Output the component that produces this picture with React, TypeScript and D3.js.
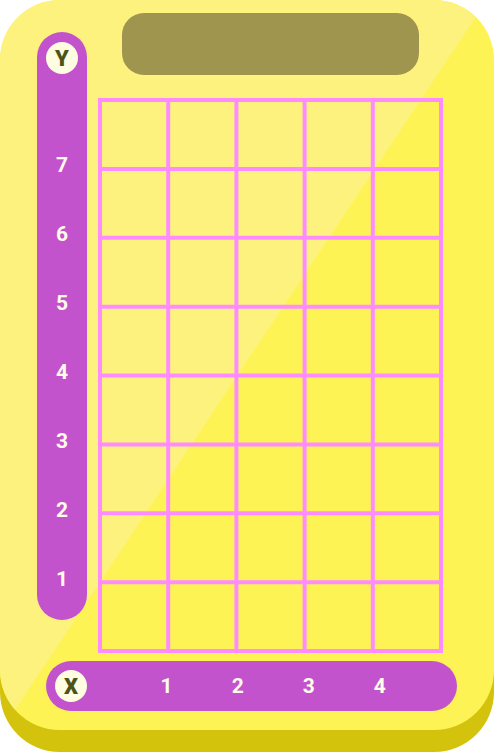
import React from "react";
import * as d3 from "d3";

const yTicks = [1, 2, 3, 4, 5, 6, 7];
const xTicks = [1, 2, 3, 4];
const gridRows = [0, 1, 2, 3, 4, 5, 6, 7, 8];
const gridCols = [0, 1, 2, 3, 4, 5];
const yAxisName = "Y";
const xAxisName = "X";

const W = 502;
const H = 752;

export default function App() {
  const cardW = 494;
  const y = d3.scaleLinear().domain([0, 8]).range([651, 100]);
  const x = d3.scaleLinear().domain([0, 5]).range([100, 441]);
  const xl = d3.scaleLinear().domain([0, 5]).range([95.5, 451]);

  const face = d3.path();
  const r = 60;
  const fh = 730;
  face.moveTo(r, 0);
  face.lineTo(cardW - r, 0);
  face.arcTo(cardW, 0, cardW, r, r);
  face.lineTo(cardW, fh - r);
  face.arcTo(cardW, fh, cardW - r, fh, r);
  face.lineTo(r, fh);
  face.arcTo(0, fh, 0, fh - r, r);
  face.lineTo(0, r);
  face.arcTo(0, 0, r, 0, r);
  face.closePath();

  const diag = (yy: number) => 487 - 0.665 * yy;
  const hl = d3.path();
  hl.moveTo(-10, -10);
  hl.lineTo(diag(-10), -10);
  hl.lineTo(diag(760), 760);
  hl.lineTo(-10, 760);
  hl.closePath();

  const font = "Roboto, 'DejaVu Sans', sans-serif";

  return (
    <svg
      width={W}
      height={H}
      style={{ position: "absolute", left: 0, top: 0, display: "block" }}
    >
      <defs>
        <clipPath id="faceClip">
          <path d={face.toString()} />
        </clipPath>
      </defs>
      <rect x={0} y={22} width={cardW} height={H - 22} rx={r} ry={r} fill="#D4C30C" />
      <path d={face.toString()} fill="#FEF355" />
      <path d={hl.toString()} fill="#FEF27E" clipPath="url(#faceClip)" />
      <rect x={122} y={13} width={297} height={62} rx={22} ry={22} fill="#9F954F" />

      {/* y axis pill */}
      <rect x={37} y={32} width={50} height={588} rx={25} ry={25} fill="#C353CD" />
      <circle cx={62} cy={58} r={16} fill="#FEFCE1" />
      <text x={62} y={58} dy="0.36em" textAnchor="middle" fontFamily={font} fontWeight={900} fontSize={22} fill="#4B5319">
        {yAxisName}
      </text>
      {yTicks.map((t) => (
        <text key={t} x={62} y={y(t) - 4} dy="0.36em" textAnchor="middle" fontFamily={font} fontWeight={700} fontSize={21} fill="#FEFCE8">
          {t}
        </text>
      ))}

      {/* x axis pill */}
      <rect x={46} y={661} width={411} height={50} rx={25} ry={25} fill="#C353CD" />
      <circle cx={71} cy={686} r={16} fill="#FEFCE1" />
      <text x={71} y={686} dy="0.36em" textAnchor="middle" fontFamily={font} fontWeight={900} fontSize={22} fill="#4B5319">
        {xAxisName}
      </text>
      {xTicks.map((t) => (
        <text key={t} x={xl(t)} y={685} dy="0.36em" textAnchor="middle" fontFamily={font} fontWeight={700} fontSize={21} fill="#FEFCE8">
          {t}
        </text>
      ))}

      {/* grid */}
      <g stroke="#FF8CFF" strokeWidth={4}>
        {gridRows.map((g) => (
          <line key={"r" + g} x1={x(0) - 2} x2={x(5) + 2} y1={y(g)} y2={y(g)} />
        ))}
        {gridCols.map((g) => (
          <line key={"c" + g} x1={x(g)} x2={x(g)} y1={y(8) - 2} y2={y(0) + 2} />
        ))}
      </g>
    </svg>
  );
}
